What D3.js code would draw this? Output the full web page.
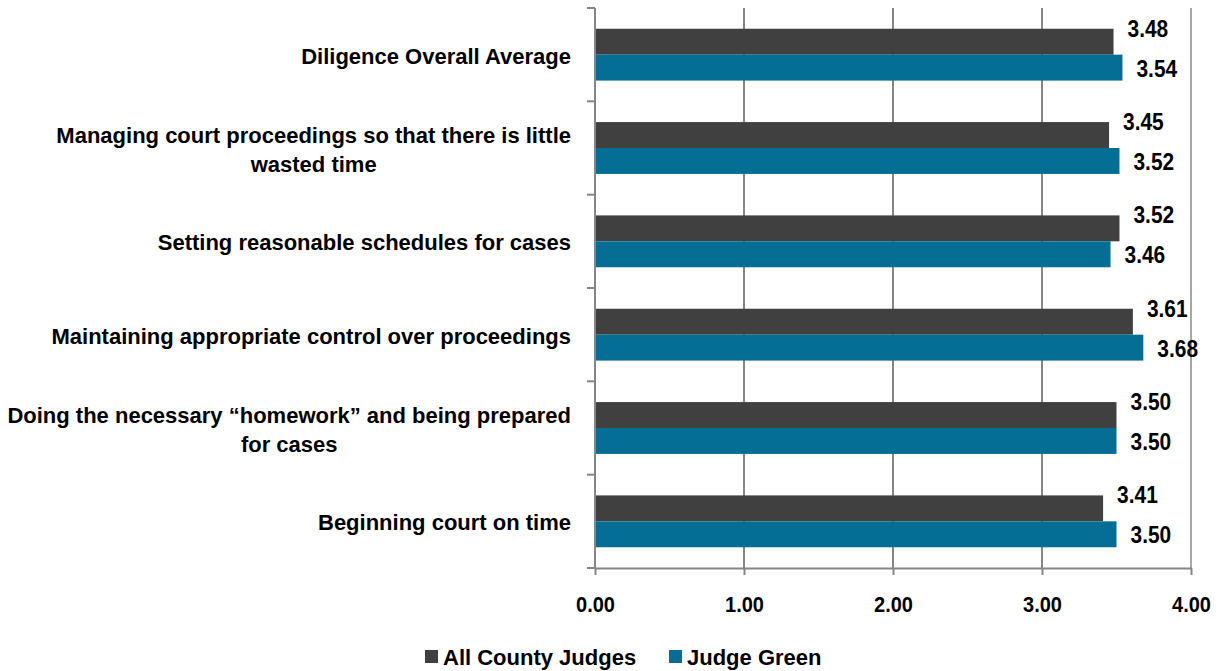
<!DOCTYPE html>
<html>
<head>
<meta charset="utf-8">
<script src="https://cdn.jsdelivr.net/npm/d3@7"></script>
<style>
  body { margin: 0; background: #fff; }
  text { font-family: "Liberation Sans", Arial, sans-serif; font-weight: bold; fill: #000; }
</style>
</head>
<body>
<script>
const categories = [
  ['Diligence Overall Average'],
  ['Managing court proceedings so that there is little', 'wasted time'],
  ['Setting reasonable schedules for cases'],
  ['Maintaining appropriate control over proceedings'],
  ['Doing the necessary \u201chomework\u201d and being prepared', 'for cases'],
  ['Beginning court on time']
]
const seriesNames = ['All County Judges', 'Judge Green']
const allCounty = [3.48, 3.45, 3.52, 3.61, 3.50, 3.41]
const judgeGreen = [3.54, 3.52, 3.46, 3.68, 3.50, 3.50]
const xTicks = [0, 1, 2, 3, 4]
const colors = ['#404040', '#046e94']

const width = 1220
const height = 671
const plotLeft = 595
const plotRight = 1191
const plotTop = 8
const plotBottom = 568
const numScale = 0.89 // numbers in the original are set narrow

const svg = d3.select('body').append('svg')
  .attr('width', width)
  .attr('height', height)

const keys = categories.map(function (c, i) { return i })
const x = d3.scaleLinear().domain([0, 4]).range([plotLeft, plotRight])
const y0 = d3.scaleBand().domain(keys).range([plotTop, plotBottom])
const y1 = d3.scaleBand().domain(seriesNames)
  .range([0, y0.bandwidth()]).paddingInner(0).paddingOuter(0.8)

// gridlines
svg.append('g')
  .selectAll('line')
  .data(xTicks.slice(1))
  .enter()
  .append('line')
  .attr('x1', function (d) { return x(d) })
  .attr('x2', function (d) { return x(d) })
  .attr('y1', plotTop)
  .attr('y2', plotBottom)
  .attr('stroke', function (d) { return d === 4 ? '#a6a6a6' : '#868686' })
  .attr('stroke-width', 2)

// bars
const rows = keys.map(function (i) {
  return [allCounty[i], judgeGreen[i]]
})
const groups = svg.append('g')
  .selectAll('g')
  .data(rows)
  .enter()
  .append('g')
  .attr('transform', function (d, i) { return 'translate(0,' + y0(i) + ')' })

groups.selectAll('rect')
  .data(function (d) { return d })
  .enter()
  .append('rect')
  .attr('x', x(0))
  .attr('y', function (d, j) { return y1(seriesNames[j]) })
  .attr('width', function (d) { return x(d) - x(0) })
  .attr('height', y1.bandwidth())
  .attr('fill', function (d, j) { return colors[j] })

// value labels, dark one sits higher like the original
groups.selectAll('text')
  .data(function (d) { return d })
  .enter()
  .append('text')
  .text(function (d) { return d.toFixed(2) })
  .attr('transform', function (d, j) {
    const ly = y1(seriesNames[j]) + y1.bandwidth() / 2 + (j === 0 ? -13 : 1)
    return 'translate(' + (x(d) + 14) + ',' + ly + ') scale(' + numScale + ',1)'
  })
  .attr('dominant-baseline', 'central')
  .attr('font-size', '23.5px')

// axes
const xAxis = d3.axisBottom(x)
  .tickValues(xTicks)
  .tickFormat(d3.format('.2f'))
  .tickSize(7)
  .tickSizeOuter(0)
const gx = svg.append('g')
  .attr('transform', 'translate(0,' + plotBottom + ')')
  .call(xAxis)
gx.select('.domain').attr('stroke', '#868686').attr('stroke-width', 2)
gx.selectAll('.tick line').attr('stroke', '#868686').attr('stroke-width', 2)
gx.selectAll('.tick text')
  .attr('font-size', '22.5px')
  .attr('dy', null)
  .attr('y', null)
  .attr('transform', 'translate(0,37) scale(' + numScale + ',1)')
  .attr('dominant-baseline', 'central')
  .attr('font-family', null)
  .attr('fill', null)

// left axis with ticks at category boundaries
const bounds = d3.range(keys.length + 1).map(function (i) { return plotTop + i * y0.step() })
svg.append('line')
  .attr('x1', plotLeft).attr('x2', plotLeft)
  .attr('y1', plotTop).attr('y2', plotBottom)
  .attr('stroke', '#868686').attr('stroke-width', 2)
svg.append('g')
  .selectAll('line')
  .data(bounds)
  .enter()
  .append('line')
  .attr('x1', plotLeft - 8).attr('x2', plotLeft)
  .attr('y1', function (d) { return d }).attr('y2', function (d) { return d })
  .attr('stroke', '#868686').attr('stroke-width', 2)

// category labels, lines centred inside a right-aligned block
const lineHeight = 29
const catLabels = svg.append('g')
  .selectAll('text')
  .data(categories)
  .enter()
  .append('text')
  .attr('font-size', '22px')
  .attr('text-anchor', 'middle')
  .attr('dominant-baseline', 'central')

catLabels.each(function (lines, i) {
  const t = d3.select(this)
  const cy = y0(i) + y0.bandwidth() / 2 + 1
  lines.forEach(function (ln, k) {
    t.append('tspan')
      .text(ln)
      .attr('y', cy + (k - (lines.length - 1) / 2) * lineHeight)
  })
  let maxW = 0
  t.selectAll('tspan').each(function () {
    maxW = Math.max(maxW, this.getComputedTextLength())
  })
  t.selectAll('tspan').attr('x', 571 - maxW / 2)
})

// legend
const legendX = [425, 669]
const legend = svg.append('g')
  .selectAll('g')
  .data(seriesNames)
  .enter()
  .append('g')
  .attr('transform', function (d, i) { return 'translate(' + legendX[i] + ',650)' })
legend.append('rect')
  .attr('width', 13)
  .attr('height', 13)
  .attr('fill', function (d, i) { return colors[i] })
legend.append('text')
  .text(function (d) { return d })
  .attr('x', 18)
  .attr('y', 7.5)
  .attr('dominant-baseline', 'central')
  .attr('font-size', '22px')
</script>
</body>
</html>
